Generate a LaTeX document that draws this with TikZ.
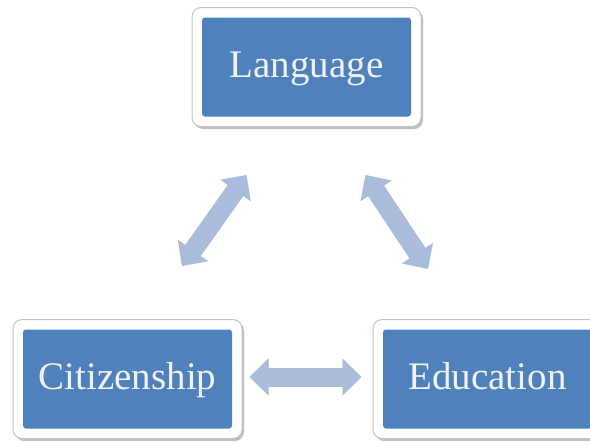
\documentclass[tikz,border=0pt]{standalone}
\usepackage{fontspec}
\setmainfont{Liberation Serif}
\usetikzlibrary{arrows.meta,shadows}
\definecolor{boxblue}{HTML}{4F81BD}
\definecolor{arrowblue}{HTML}{A9BCDB}
\definecolor{rimgray}{HTML}{C4C4C4}
\tikzset{
  outerbox/.style={draw=rimgray, line width=1pt, fill=white, rounded corners=9pt,
    minimum width=229pt, minimum height=119pt, inner sep=0pt,
    drop shadow={shadow xshift=2pt, shadow yshift=-2.5pt, opacity=0.25, fill=black}},
  innerbox/.style={fill=boxblue, rounded corners=3pt, minimum width=209pt, minimum height=99pt,
    inner sep=0pt, text=white!95!black, font=\fontsize{39}{45}\selectfont,
    text height=29pt, text depth=9pt},
  blockarrow/.style={draw=arrowblue, line width=19pt,
    {Triangle[width=36pt 0, length=19pt 0]}-{Triangle[width=36pt 0, length=19pt 0]}},
  arrowshadow/.style={draw=black, opacity=0.12, line width=19pt,
    {Triangle[width=36pt 0, length=19pt 0]}-{Triangle[width=36pt 0, length=19pt 0]}}
}
\begin{document}
\begin{tikzpicture}[x=1pt,y=-1pt]
\path[use as bounding box] (0,0) rectangle (590,442);
\node[outerbox] (langout) at (306.5,67) {};
\node[innerbox] (lang) at (306.5,67) {Language};
\node[outerbox] (citout) at (127.5,379) {};
\node[innerbox] (cit) at (127.5,379) {Citizenship};
\node[outerbox] (eduout) at (487.5,379) {};
\node[innerbox] (edu) at (487.5,379) {Education};
% arrow end points tied to nodes
\coordinate (la) at ([shift={(55,48)}]langout.south west);
\coordinate (ca) at ([shift={(54.5,-53)}]citout.north);
\coordinate (lb) at ([shift={(-56,48)}]langout.south east);
\coordinate (eb) at ([shift={(-59.5,-50)}]eduout.north);
\coordinate (cc) at ([shift={(7,-2)}]citout.east);
\coordinate (ec) at ([shift={(-11,-2)}]eduout.west);
% shadows
\begin{scope}[shift={(2,3)}]
\draw[arrowshadow] (ca) -- (la);
\draw[arrowshadow] (lb) -- (eb);
\draw[arrowshadow] (cc) -- (ec);
\end{scope}
\draw[blockarrow] (ca) -- (la);
\draw[blockarrow] (lb) -- (eb);
\draw[blockarrow] (cc) -- (ec);
\end{tikzpicture}
\end{document}
